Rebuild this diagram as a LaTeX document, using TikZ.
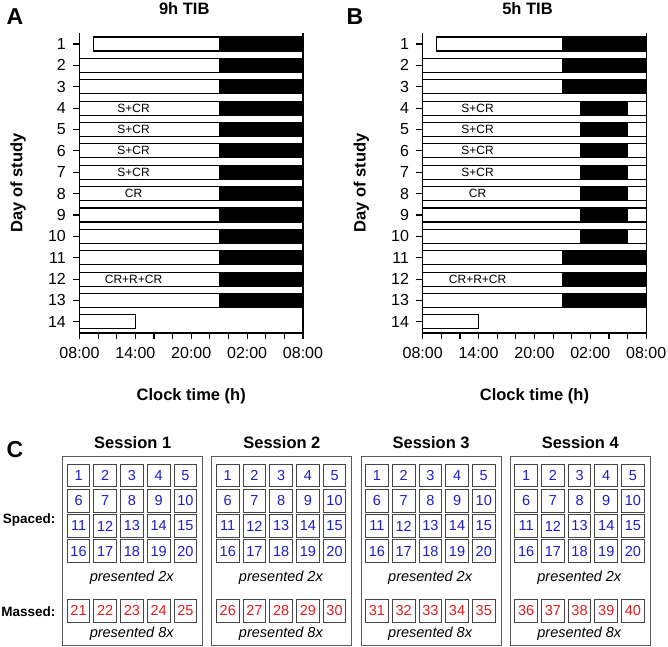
\documentclass[tikz,border=0pt]{standalone}
\usepackage{fontspec}
\setmainfont{Liberation Sans}
\usepackage{tikz}
\usetikzlibrary{positioning}
\usepackage{xcolor}
\definecolor{SleepBlack}{HTML}{000000}
\definecolor{WordBlue}{HTML}{1E1EC8}
\definecolor{WordRed}{HTML}{E01E1E}
\definecolor{FrameGray}{HTML}{454545}
\definecolor{BoxGray}{HTML}{5A5A5A}
\tikzset{
    % Schedule bars
    wakebar/.style={
        draw=black,
        fill=white,
        line width=1.1pt
    },
    sleepbar/.style={
        draw=black,
        fill=SleepBlack,
        line width=1.1pt
    },
    axisline/.style={
        draw=black,
        line width=1.1pt
    },
    % Text styles
    daynum/.style={
        anchor=east,
        inner sep=0pt,
        font=\fontsize{16}{16}\selectfont
    },
    ticklabel/.style={
        inner sep=0pt,
        font=\fontsize{16}{16}\selectfont
    },
    daytag/.style={
        inner sep=0pt,
        font=\fontsize{12}{12}\selectfont
    },
    paneltitle/.style={
        inner sep=0pt,
        font=\fontsize{16.5}{16.5}\selectfont\bfseries
    },
    panelletter/.style={
        inner sep=0pt,
        font=\fontsize{23}{23}\selectfont\bfseries
    },
    % Word squares
    wordbox/.style={
        rectangle,
        draw=FrameGray,
        line width=0.9pt,
        fill=white,
        minimum size=22.7pt,
        inner sep=0pt,
        text centered,
        font=\fontsize{14.5}{14.5}\selectfont
    },
    sessionbox/.style={
        draw=BoxGray,
        line width=1pt
    },
    notetext/.style={
        inner sep=0pt,
        font=\fontsize{14.5}{14.5}\selectfont\itshape
    },
    rowlabel/.style={
        anchor=east,
        inner sep=0pt,
        font=\fontsize{13.5}{13.5}\selectfont\bfseries
    }
}

\begin{document}
\begin{tikzpicture}[x=1pt, y=-1pt]
    \useasboundingbox (0,0) rectangle (668,646);

    % panel letters
    \node[panelletter] (letA) at (15,17) {A};
    \node[panelletter] (letB) at (355,17) {B};
    \node[panelletter] (letC) at (15,450) {C};

    % ---- A: 9h TIB ----
    \begin{scope}[shift={(79.5,0)}, x=9.3125pt]
        \foreach \d/\s [evaluate=\d as \yc using 44+(\d-1)*21.37] in {1/1.5,2/0,3/0,4/0,5/0,6/0,7/0,8/0,9/0,10/0,11/0,12/0,13/0}{
            \draw[wakebar] (\s,\yc-7) rectangle (24,\yc+7);
            \draw[sleepbar] (15,\yc-7) rectangle (24,\yc+7);
        }
        \draw[wakebar] (0,321.8-7) rectangle (6,321.8+7);

        \draw[axisline] (0,33) -- (0,333) -- (24,333) -- (24,33);
        \foreach \d [evaluate=\d as \yc using 44+(\d-1)*21.37] in {1,...,14}{
            \draw[axisline] (-0.75,\yc) -- (0,\yc);
            \node[daynum] (a-day\d) at (-1.45,\yc) {\d};
        }
        \foreach \h in {0,2,...,24}
            \draw[axisline] (\h,333) -- (\h,338.5);
        \foreach \h/\t in {0/08:00,6/14:00,12/20:00,18/02:00,24/08:00}
            \node[ticklabel] (a-tick\h) at (\h,353) {\t};

        \foreach \d in {4,5,6,7}
            \node[daytag] (a-tag\d) at (5.8,{44+(\d-1)*21.37}) {S+CR};
        \node[daytag] (a-tag8) at (5.8,{44+7*21.37}) {CR};
        \node[daytag] (a-tag12) at (5.8,{44+11*21.37}) {CR+R+CR};

        \node[paneltitle] (a-title) at (11.25,9) {9h TIB};
        \node[paneltitle] (a-xlab) at (12,396) {Clock time (h)};
        \node[paneltitle, rotate=90] (a-ylab) at (-6.6,183) {Day of study};
    \end{scope}

    % ---- B: 5h TIB ----
    \begin{scope}[shift={(422.7,0)}, x=9.3125pt]
        \foreach \d/\s [evaluate=\d as \yc using 44+(\d-1)*21.37] in {1/1.5,2/0,3/0,11/0,12/0,13/0}{
            \draw[wakebar] (\s,\yc-7) rectangle (24,\yc+7);
            \draw[sleepbar] (15,\yc-7) rectangle (24,\yc+7);
        }
        \foreach \d [evaluate=\d as \yc using 44+(\d-1)*21.37] in {4,...,10}{
            \draw[wakebar] (0,\yc-7) rectangle (24,\yc+7);
            \draw[sleepbar] (17,\yc-7) rectangle (22,\yc+7);
        }
        \draw[wakebar] (0,321.8-7) rectangle (6,321.8+7);

        \draw[axisline] (0,33) -- (0,333) -- (24,333) -- (24,33);
        \foreach \d [evaluate=\d as \yc using 44+(\d-1)*21.37] in {1,...,14}{
            \draw[axisline] (-0.75,\yc) -- (0,\yc);
            \node[daynum] (b-day\d) at (-1.45,\yc) {\d};
        }
        \foreach \h in {0,2,...,24}
            \draw[axisline] (\h,333) -- (\h,338.5);
        \foreach \h/\t in {0/08:00,6/14:00,12/20:00,18/02:00,24/08:00}
            \node[ticklabel] (b-tick\h) at (\h,353) {\t};

        \foreach \d in {4,5,6,7}
            \node[daytag] (b-tag\d) at (5.9,{44+(\d-1)*21.37}) {S+CR};
        \node[daytag] (b-tag8) at (5.9,{44+7*21.37}) {CR};
        \node[daytag] (b-tag12) at (5.9,{44+11*21.37}) {CR+R+CR};

        \node[paneltitle] (b-title) at (11.25,9) {5h TIB};
        \node[paneltitle] (b-xlab) at (12,396) {Clock time (h)};
        \node[paneltitle, rotate=90] (b-ylab) at (-6.6,183) {Day of study};
    \end{scope}

    % ---- C: sessions ----
    \node[rowlabel] (spaced) at (55.5,520) {Spaced:};
    \node[rowlabel] (massed) at (55.5,612) {Massed:};
    \foreach \s [evaluate=\s as \bx using 62.7+(\s-1)*149.2] in {1,2,3,4}{
        \draw[sessionbox] (\bx,456.7) rectangle (\bx+140,645);
        \node[paneltitle] (sess\s) at (\bx+70,443) {Session \s};
        \foreach \r in {0,...,3}
            \foreach \c in {0,...,4}{
                \pgfmathtruncatemacro\num{\r*5+\c+1}
                \node[wordbox, text=WordBlue] (s\s-sp\num) at (\bx+15.85+\c*26.7,475.35+\r*25.3) {\num};
            }
        \node[notetext] (s\s-note2) at (\bx+69,577.3) {presented 2x};
        \foreach \c in {0,...,4}{
            \pgfmathtruncatemacro\num{20+(\s-1)*5+\c+1}
            \node[wordbox, text=WordRed] (s\s-ms\num) at (\bx+15.85+\c*26.7,610.65) {\num};
        }
        \node[notetext] (s\s-note8) at (\bx+69,634) {presented 8x};
    }
\end{tikzpicture}
\end{document}
